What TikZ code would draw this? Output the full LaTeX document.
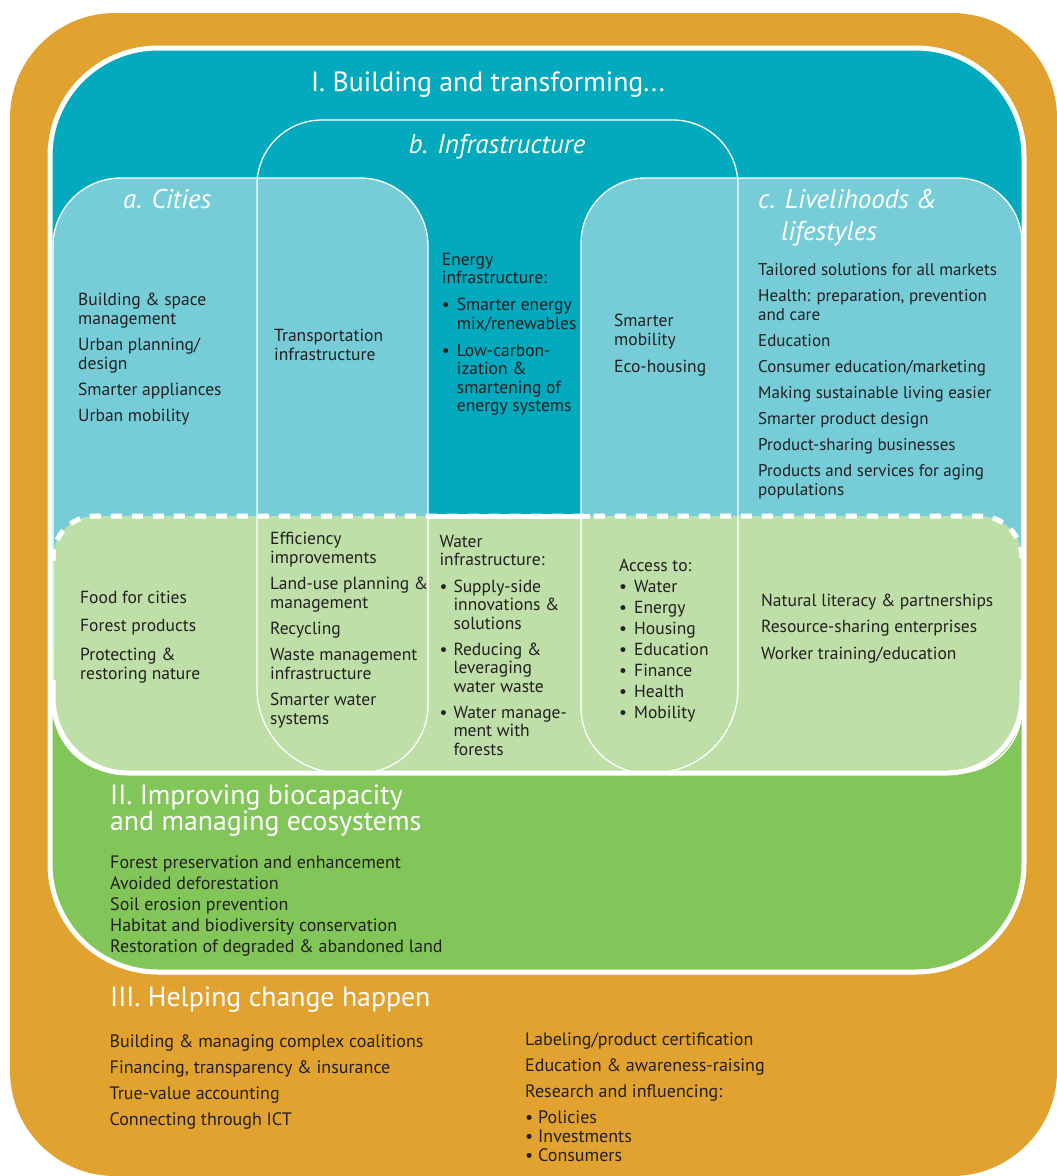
\documentclass[tikz,border=0pt]{standalone}
\usepackage{fontspec}
\setmainfont{PT Sans}
\definecolor{orng}{HTML}{E1A22F}
\definecolor{tealA}{HTML}{03A9BD}
\definecolor{lblue}{HTML}{76CDD8}
\definecolor{dgreen}{HTML}{82C65A}
\definecolor{lgreen}{HTML}{BEDFA8}
\definecolor{ink}{HTML}{231F20}
\newcommand\mybul[1]{\makebox[#1][l]{\textbullet}}
\newcommand\myind[1]{\hspace*{#1}}
\tikzset{
  txtbase/.style={anchor=north west, inner sep=0pt, align=left, text=ink},
  blk/.style={txtbase, font=\fontsize{17.5}{19}\selectfont, yshift=13.3pt},
  blkc/.style={txtbase, font=\fontsize{17}{19}\selectfont, yshift=13.3pt},
  blkl/.style={txtbase, font=\fontsize{18}{19}\selectfont, yshift=13.3pt},
  blkb/.style={txtbase, font=\fontsize{17.5}{18.5}\selectfont, yshift=12.95pt},
  ttl/.style={anchor=base west, inner sep=0pt, text=white, font=\fontsize{27.8}{30}\selectfont},
  ital/.style={anchor=base west, inner sep=0pt, text=white, font=\fontsize{27}{30}\selectfont\itshape},
  wline/.style={draw=white, line width=1.3pt},
  thick white/.style={draw=white, line width=5pt}
}
\begin{document}
\begin{tikzpicture}[x=1pt,y=-1pt]
\useasboundingbox (0,0) rectangle (1057,1176);
\fill[white] (0,0) rectangle (1057,1176);
\fill[orng, rounded corners=105pt] (10,13) rectangle (1057,1176);
\begin{scope}
  \clip[rounded corners=108pt] (50,48) rectangle (1024,972);
  \fill[tealA] (0,0) rectangle (1057,650);
  \fill[dgreen] (0,650) rectangle (1057,1000);
  \fill[lblue, rounded corners=68pt] (53,178) rectangle (428,640);
  \fill[lblue, rounded corners=65pt] (581,178) rectangle (1022,640);
  \begin{scope}
    \clip[rounded corners=42pt] (53,516) rectangle (1022,900);
    \fill[lgreen, rounded corners=75pt] (53,400) rectangle (1022,773);
  \end{scope}
  % thin outlines of a, b, c
  \draw[wline, rounded corners=68pt] (53,178) rectangle (428,773);
  \draw[wline] (257,450) [rounded corners=65pt] -- (257,120) -- (738,120) -- (738,450)
        [rounded corners=85pt] -- (738,773) -- (257,773) -- cycle;
  \draw[wline, rounded corners=65pt] (581,178) rectangle (1022,773);
  % dashed top border of the intersection
  \begin{scope}
    \clip (0,490) rectangle (1057,560);
    \draw[thick white, dash pattern=on 11pt off 10pt, rounded corners=42pt] (53,516) rectangle (1022,900);
  \end{scope}
  \draw[thick white] (428,516) -- (590,516);
  \begin{scope}
    \clip (0,680) rectangle (1057,800);
    \draw[thick white, rounded corners=75pt] (53,400) rectangle (1022,773);
  \end{scope}
\end{scope}
\draw[thick white, rounded corners=108pt] (50,48) rectangle (1024,972);

% titles
\node[ttl, anchor=base] (t1) at (488,91) {I. Building and transforming...};
\node[ital, anchor=base] (tb) at (497,153) {b. Infrastructure};
\node[ital] (ta) at (123,208) {a. Cities};
\node[ital] (tc1) at (758,208) {c. Livelihoods \&};
\node[ital] (tc2) at (781,240) {lifestyles};

% upper row
\node[blk] (a1) at (78,305) {\strut Building \& space\\management\\[7pt]Urban planning/\\design\\[7pt]Smarter appliances\\[7pt]Urban mobility};
\node[blk] (ab1) at (274,341) {\strut Transportation\\infrastructure};
\node[blkb] (b1) at (441.7,265) {\strut Energy\\infrastructure:\\[8.5pt]\mybul{15pt}Smarter energy\\\myind{15pt}mix/renewables\\[8.5pt]\mybul{15pt}Low-carbon-\\\myind{15pt}ization \&\\\myind{15pt}smartening of\\\myind{15pt}energy systems};
\node[blk] (bc1) at (614,326) {\strut Smarter\\mobility\\[8pt]Eco-housing};
\node[blkc] (c1) at (758,275) {\strut Tailored solutions for all markets\\[7pt]Health: preparation, prevention\\and care\\[7pt]Education\\[7pt]Consumer education/marketing\\[7pt]Making sustainable living easier\\[7pt]Smarter product design\\[7pt]Product-sharing businesses\\[7pt]Products and services for aging\\populations};

% lower row
\node[blk] (a2) at (80,603) {\strut Food for cities\\[9.5pt]Forest products\\[9.5pt]Protecting \&\\restoring nature};
\node[blk] (ab2) at (270,544) {\strut Efficiency\\improvements\\[7pt]Land-use planning \&\\management\\[7pt]Recycling\\[7pt]Waste management\\infrastructure\\[7pt]Smarter water\\systems};
\node[blkb] (b2) at (439.3,547) {\strut Water\\infrastructure:\\[8pt]\mybul{14pt}Supply-side\\\myind{14pt}innovations \&\\\myind{14pt}solutions\\[7.5pt]\mybul{14pt}Reducing \&\\\myind{14pt}leveraging\\\myind{14pt}water waste\\[7.5pt]\mybul{14pt}Water manage-\\\myind{14pt}ment with\\\myind{14pt}forests};
\node[blk] (bc2) at (619,571) {\strut Access to:\\[2pt]\mybul{15pt}Water\\[2pt]\mybul{15pt}Energy\\[2pt]\mybul{15pt}Housing\\[2pt]\mybul{15pt}Education\\[2pt]\mybul{15pt}Finance\\[2pt]\mybul{15pt}Health\\[2pt]\mybul{15pt}Mobility};
\node[blk] (c2) at (761,606) {\strut Natural literacy \& partnerships\\[7.5pt]Resource-sharing enterprises\\[7.5pt]Worker training/education};

% II
\node[ttl] (t2a) at (110,804) {II. Improving biocapacity};
\node[ttl] (t2b) at (110,830) {and managing ecosystems};
\node[blkl] (ii) at (110,868) {\strut Forest preservation and enhancement\\[2pt]Avoided deforestation\\[2pt]Soil erosion prevention\\[2pt]Habitat and biodiversity conservation\\[2pt]Restoration of degraded \& abandoned land};

% III
\node[ttl] (t3) at (110,1006) {III. Helping change happen};
\node[blkl] (iiil) at (109.5,1047) {\strut Building \& managing complex coalitions\\[7pt]Financing, transparency \& insurance\\[7pt]True-value accounting\\[7pt]Connecting through ICT};
\node[blkl] (iiir) at (525,1045) {\strut Labeling/product certification\\[7pt]Education \& awareness-raising\\[7pt]Research and influencing:\\[7pt]\mybul{13pt}Policies\\\mybul{13pt}Investments\\\mybul{13pt}Consumers};
\end{tikzpicture}
\end{document}
